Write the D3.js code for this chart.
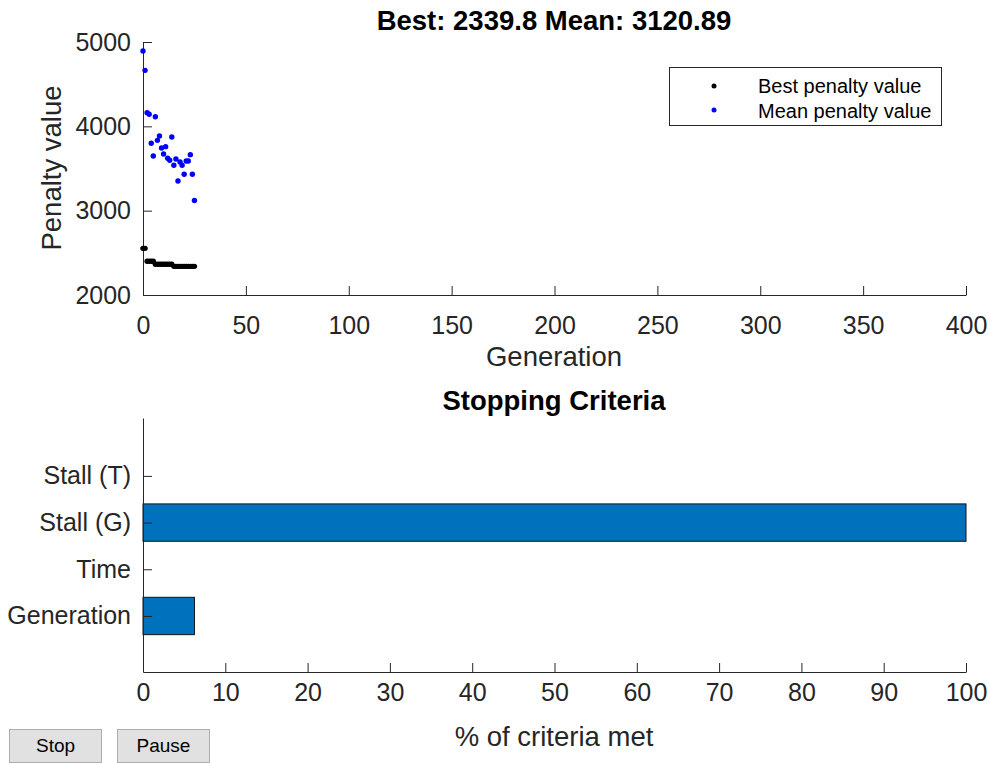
<!DOCTYPE html>
<html>
<head>
<meta charset="utf-8">
<script src="https://cdn.jsdelivr.net/npm/d3@7"></script>
<style>
  body { margin: 0; background: #fff; font-family: "Liberation Sans", Arial, sans-serif; }
  svg { display: block; }
  .tick text { fill: #262626; }
  .domain, .tick line { stroke: #262626; }
  .btn { position: absolute; background: #e1e1e1; border: 1px solid #adadad; font-size: 19px;
         color: #000; text-align: center; line-height: 32px; box-sizing: border-box; }
</style>
</head>
<body>
<div style="position:relative;width:988px;height:763px">
<svg id="chart" width="988" height="763"></svg>
<div class="btn" style="left:9px;top:729px;width:93px;height:34px">Stop</div>
<div class="btn" style="left:117px;top:729px;width:93px;height:34px">Pause</div>
</div>
<script>
// generations 0..25
const generations = d3.range(0, 26)
const bestPenalty = [2553, 2553, 2400, 2400, 2400, 2400, 2365, 2365, 2365, 2365, 2365, 2365, 2365, 2365, 2365,
  2339.8, 2339.8, 2339.8, 2339.8, 2339.8, 2339.8, 2339.8, 2339.8, 2339.8, 2339.8, 2339.8]
const meanPenalty = [4893, 4664, 4162, 4143, 3799, 3648, 4114, 3834, 3885, 3743, 3672, 3759, 3621, 3597, 3873,
  3538, 3613, 3352, 3577, 3538, 3431, 3589, 3589, 3664, 3431, 3120.89]
const xTicksTop = [0, 50, 100, 150, 200, 250, 300, 350, 400]
const yTicksTop = [2000, 3000, 4000, 5000]

const criteria = ["Generation", "Time", "Stall (G)", "Stall (T)"]
const criteriaMet = [6.25, 0, 100, 0]
const xTicksBottom = d3.range(0, 101, 10)

const svg = d3.select("#chart")
const left = 143, right = 966

// ---- top plot ----
const x1 = d3.scaleLinear().domain([0, 400]).range([left, right])
const y1 = d3.scaleLinear().domain([2000, 5000]).range([295, 42])

svg.append("g")
    .attr("transform", "translate(0,295)")
    .call(d3.axisBottom(x1).tickValues(xTicksTop).tickSizeInner(-9).tickSizeOuter(0).tickPadding(21))
    .attr("font-size", 25).attr("font-family", null)

svg.append("g")
    .attr("transform", "translate(" + left + ",0)")
    .call(d3.axisLeft(y1).tickValues(yTicksTop).tickFormat(d3.format("d"))
        .tickSizeInner(-9).tickSizeOuter(0).tickPadding(12))
    .attr("font-size", 25).attr("font-family", null)

svg.selectAll(".best").data(generations).join("circle")
    .attr("cx", d => x1(d)).attr("cy", (d, i) => y1(bestPenalty[i]))
    .attr("r", 2.7).attr("fill", "black")

svg.selectAll(".mean").data(generations).join("circle")
    .attr("cx", d => x1(d)).attr("cy", (d, i) => y1(meanPenalty[i]))
    .attr("r", 2.7).attr("fill", "blue")

svg.append("text").attr("x", 554).attr("y", 30).attr("text-anchor", "middle")
    .attr("font-size", 27.5).attr("font-weight", "bold").attr("fill", "#000")
    .text("Best: " + bestPenalty[bestPenalty.length - 1] + " Mean: " + meanPenalty[meanPenalty.length - 1])

svg.append("text").attr("x", 554).attr("y", 366).attr("text-anchor", "middle")
    .attr("font-size", 27.5).attr("fill", "#262626").text("Generation")

svg.append("text").attr("transform", "translate(61,168) rotate(-90)").attr("text-anchor", "middle")
    .attr("font-size", 27.5).attr("fill", "#262626").text("Penalty value")

// legend
let legend = svg.append("g")
legend.append("rect").attr("x", 669.5).attr("y", 67.5).attr("width", 272).attr("height", 58)
    .attr("fill", "white").attr("stroke", "#262626")
const legendItems = [["Best penalty value", "black"], ["Mean penalty value", "blue"]]
legendItems.forEach((it, i) => {
    legend.append("circle").attr("cx", 714).attr("cy", 86 + i * 24).attr("r", 2.5).attr("fill", it[1])
    legend.append("text").attr("x", 758).attr("y", 93 + i * 25).attr("font-size", 20)
        .attr("fill", "#000").text(it[0])
})

// ---- bottom plot ----
const x2 = d3.scaleLinear().domain([0, 100]).range([left, right])
const y2 = d3.scaleLinear().domain([-0.2, 5.24]).range([672, 418])
const barH = y2(0) - y2(0.8)

svg.selectAll(".bar").data(criteria).join("rect")
    .attr("x", x2(0)).attr("y", (d, i) => y2(i + 1) - barH / 2)
    .attr("width", (d, i) => x2(criteriaMet[i]) - x2(0)).attr("height", barH)
    .attr("fill", "#0072BD").attr("stroke", (d, i) => criteriaMet[i] > 0 ? "#111" : "none").attr("stroke-width", 1)

svg.append("g")
    .attr("transform", "translate(0,672)")
    .call(d3.axisBottom(x2).tickValues(xTicksBottom).tickSizeInner(-9).tickSizeOuter(0).tickPadding(11))
    .attr("font-size", 25).attr("font-family", null)

svg.append("g")
    .attr("transform", "translate(" + left + ",0)")
    .call(d3.axisLeft(y2).tickValues([1, 2, 3, 4]).tickFormat((d, i) => criteria[i])
        .tickSizeInner(-9).tickSizeOuter(0).tickPadding(12))
    .attr("font-size", 25).attr("font-family", null)

svg.append("text").attr("x", 554).attr("y", 410).attr("text-anchor", "middle")
    .attr("font-size", 27.5).attr("font-weight", "bold").attr("fill", "#000").text("Stopping Criteria")

svg.append("text").attr("x", 554).attr("y", 746).attr("text-anchor", "middle")
    .attr("font-size", 27.5).attr("fill", "#262626").text("% of criteria met")
</script>
</body>
</html>
